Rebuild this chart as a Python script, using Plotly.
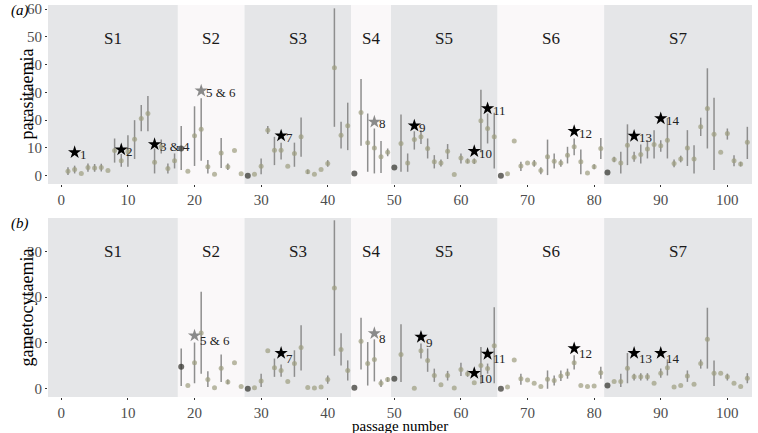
import plotly.graph_objects as go

passage = list(range(1, 104))

# parasitaemia (panel a): mean, lower, upper (None = no bar)
para_mean = [1.6, 2.2, 0.8, 2.9, 2.8, 2.9, 1.9, 9.1, 5.4, 8.6,
             13.1, 20.6, 22.4, 4.8, 10.4, 2.6, 5.4, 9.8, 1.6, 14.4,
             16.7, 3.2, 0.5, 8.2, 3.2, 9.1, 0.7, 0.0, 0.5, 3.4,
             16.4, 9.2, 9.2, 3.4, 8.0, 14.0, 1.4, 0.5, 2.2, 4.4,
             38.9, 14.6, 18.0, 0.8, 22.8, 11.9, 10.0, 6.8, 8.4, 2.9,
             11.6, 4.6, 13.0, 14.0, 9.8, 5.0, 4.6, 8.8, 0.4, 6.4,
             5.2, 5.2, 19.8, 17.0, 14.0, 0.0, 0.7, 12.5, 3.5, 4.6,
             4.4, 1.9, 6.8, 5.2, 4.6, 7.4, 10.4, 5.0, 1.0, 3.2,
             9.8, 1.1, 5.8, 4.6, 11.0, 6.6, 7.6, 9.6, 11.2, 10.8,
             12.8, 4.4, 6.0, 10.0, 6.0, 17.6, 24.2, 14.9, 8.4, 15.2,
             5.4, 4.2, 12.0]
para_lo = [0.2, 0.8, None, 1.4, 1.4, 1.5, None, 4.7, 3.2, 3.2,
           6.0, 16.0, 16.0, 0.8, 8.0, 0.8, 2.6, 2.0, None, 3.5,
           5.4, 0.8, None, 2.8, 2.0, None, None, None, None, 0.5,
           15.0, 3.8, 5.8, None, 3.2, 6.8, 0.6, None, None, 3.2,
           17.6, 9.8, 9.2, None, 10.8, 1.4, 0.8, 1.0, 7.0, None,
           1.4, 1.4, 9.4, 11.4, 6.2, 2.6, 3.3, 6.0, None, 4.4,
           4.4, 4.2, 8.4, 11.6, 2.6, None, None, None, 1.7, None,
           3.2, 0.5, 0.2, 2.6, 3.2, 4.4, 7.4, 0.5, None, 2.3,
           6.0, None, 4.8, 0.8, 3.8, 5.0, 4.4, 6.2, 6.2, 8.6,
           6.2, 3.0, 4.8, 3.5, 0.8, 14.3, 9.8, 2.0, None, 13.0,
           3.4, 3.3, 6.0]
para_hi = [3.0, 3.6, None, 4.4, 4.2, 4.3, None, 13.4, 7.8, 14.6,
           20.0, 25.5, 28.7, 9.8, 13.0, 4.4, 8.0, 17.9, None, 25.0,
           27.9, 5.6, None, 13.6, 4.4, None, None, None, None, 6.2,
           17.9, 14.0, 11.9, None, 11.9, 21.0, 2.2, None, None, 5.6,
           60.3, 19.4, 26.3, None, 34.8, 22.4, 17.0, 12.5, 9.8, None,
           22.0, 8.0, 16.0, 16.4, 13.4, 7.4, 5.8, 11.4, None, 8.0,
           6.2, 6.2, 31.0, 22.4, 22.7, None, None, None, 5.0, None,
           5.6, 3.0, 13.0, 8.0, 5.8, 10.4, 13.4, 9.4, None, 4.1,
           13.6, None, 6.8, 8.6, 18.5, 8.6, 11.2, 12.8, 16.4, 12.8,
           20.6, 5.8, 7.2, 16.4, 11.0, 20.9, 38.7, 28.1, None, 17.0,
           7.4, 5.0, 17.6]

# gametocytaemia (panel b)
gam_mean = [None] * 17 + [
    4.8, 0.7, 5.7, 12.2, 2.0, 0.2, 4.5, 1.5, 5.7, 0.5,
    0.0, 0.2, 1.7, 8.3, 4.6, 4.0, 1.6, 5.5, 9.0, 0.3,
    0.15, 0.4, 2.0, 22.0, 8.6, 4.0, 0.2, 10.4, 5.5, 6.4,
    1.2, 2.0, 2.2, 7.5, None, 0.1, 8.3, 6.2, 2.9, 0.9,
    2.9, 0.15, 4.2, 3.3, 1.3, 5.1, 4.4, 9.4, 0.0, 0.4,
    6.3, 2.2, 1.9, 1.2, 0.5, 2.1, 1.8, 2.8, 3.3, 5.7,
    0.7, 0.5, 0.6, 3.5, 0.7, 1.6, 1.6, 4.5, 2.6, 2.6,
    2.6, 1.2, 3.4, 4.6, 0.4, 0.7, 2.8, 1.0, 5.5, 10.8,
    3.4, 3.4, 2.6, 1.2, 0.5, 2.3]
gam_lo = [None] * 17 + [
    0.6, None, 1.2, 3.3, 0.4, None, 1.5, 1.0, None, None,
    None, None, 0.4, None, 2.6, 2.6, None, 2.6, 4.0, None,
    None, None, 1.1, 7.2, 5.1, 1.8, None, 4.2, 0.7, 1.6,
    0.4, 1.5, None, 1.5, None, None, 6.6, 3.7, 1.5, None,
    1.8, None, 2.8, 2.6, None, 1.1, 3.3, 1.2, None, None,
    None, 0.9, None, None, None, 0.0, 0.7, 1.7, 2.2, 4.2,
    None, None, None, 2.2, None, None, 0.4, 1.2, 1.8, 1.8,
    1.8, None, 2.4, 2.9, None, None, 1.5, None, 4.4, 4.4,
    0.6, None, 1.8, None, None, 1.2]
gam_hi = [None] * 17 + [
    8.8, None, 10.1, 21.2, 3.8, None, 7.5, 2.0, None, None,
    None, None, 3.3, None, 6.6, 5.3, None, 8.4, 13.9, None,
    None, None, 2.9, 36.8, 12.1, 6.2, None, 15.5, 10.2, 10.8,
    2.0, 2.5, None, 14.1, None, None, 9.9, 8.8, 4.4, None,
    3.9, None, 5.7, 4.0, None, 9.1, 5.5, 17.8, None, None,
    None, 3.3, None, None, None, 4.0, 2.9, 4.0, 4.4, 7.3,
    None, None, None, 4.8, None, None, 3.3, 7.8, 3.3, 3.4,
    3.4, None, 4.4, 6.4, None, None, 4.0, None, 6.4, 17.7,
    6.2, None, 3.3, None, None, 3.4]

dark_passages = [18, 28, 44, 50, 66, 82]

# stars: passage, value, label, grey?
star_a_x = [2, 9, 14, 21, 33, 47, 53, 62, 64, 77, 86, 90]
star_a_y = [8.4, 9.4, 11.3, 30.6, 14.4, 19.4, 18.0, 8.8, 24.2, 16.0, 14.3, 20.6]
star_a_lab = ["1", "2", "3 & 4", "5 & 6", "7", "8", "9", "10", "11", "12", "13", "14"]
star_a_grey = [False, False, False, True, False, True, False, False, False, False, False, False]

star_b_x = [20, 33, 47, 54, 62, 64, 77, 86, 90]
star_b_y = [11.6, 7.8, 12.1, 11.3, 3.4, 7.6, 8.8, 7.8, 7.8]
star_b_lab = ["5 & 6", "7", "8", "9", "10", "11", "12", "13", "14"]
star_b_grey = [True, False, True, False, False, False, False, False, False]

# sample periods
seg_names = ["S1", "S2", "S3", "S4", "S5", "S6", "S7"]
seg_bounds = [-2.0, 17.5, 27.5, 43.5, 49.5, 65.5, 81.5, 103.7]

x_ticks = list(range(0, 101, 10))

FONT = "Liberation Serif, Times New Roman, DejaVu Serif, serif"
PT_COL = "#9d9d7f"
DARK_COL = "#2f2f2a"
ERR_COL = "#8e8e8e"
BAND_DARK = "#e5e6e8"
BAND_LIGHT = "#faf8f9"

fig = go.Figure()


def add_panel(mean, lo, hi, xa, ya):
    xs, ys, ep, em, cols, sizes = [], [], [], [], [], []
    for p, m, l, h in zip(passage, mean, lo, hi):
        if m is None:
            continue
        xs.append(p)
        ys.append(m)
        ep.append((h - m) if h is not None else 0)
        em.append((m - l) if l is not None else 0)
        dark = p in dark_passages
        cols.append(DARK_COL if dark else PT_COL)
        sizes.append(6 if dark else 5)
    fig.add_trace(go.Scatter(
        x=xs, y=ys, mode="markers", xaxis=xa, yaxis=ya,
        marker=dict(color=cols, size=sizes, line=dict(width=0)),
        error_y=dict(type="data", symmetric=False, array=ep, arrayminus=em,
                     color=ERR_COL, thickness=1.5, width=0),
        showlegend=False, hoverinfo="x+y"))


add_panel(para_mean, para_lo, para_hi, "x", "y")
add_panel(gam_mean, gam_lo, gam_hi, "x2", "y2")


def add_stars(sx, sy, lab, grey, xa, ya, yshift):
    cols = ["#8a8a8a" if g else "#000000" for g in grey]
    fig.add_trace(go.Scatter(
        x=sx, y=sy, mode="markers", xaxis=xa, yaxis=ya,
        marker=dict(symbol="star", size=10, color=cols, line=dict(width=0)),
        showlegend=False, hoverinfo="text", text=lab))
    for x, y, t in zip(sx, sy, lab):
        fig.add_annotation(x=x, y=y, xref=xa, yref=ya, text=t, showarrow=False,
                           xanchor="left", yanchor="middle", xshift=3, yshift=yshift,
                           font=dict(family=FONT, size=13, color="#222222"))


add_stars(star_a_x, star_a_y, star_a_lab, star_a_grey, "x", "y", -2)
add_stars(star_b_x, star_b_y, star_b_lab, star_b_grey, "x2", "y2", -5)

# background bands and segment labels
for xa, yd in (("x", "y domain"), ("x2", "y2 domain")):
    for i, name in enumerate(seg_names):
        fig.add_shape(type="rect", xref=xa, yref=yd,
                      x0=seg_bounds[i], x1=seg_bounds[i + 1], y0=0, y1=1,
                      fillcolor=BAND_DARK if i % 2 == 0 else BAND_LIGHT,
                      line=dict(width=0), layer="below")
        fig.add_annotation(x=(seg_bounds[i] + seg_bounds[i + 1]) / 2, y=0.875,
                           xref=xa, yref=yd, text=name, showarrow=False,
                           font=dict(family=FONT, size=17, color="#1a1a1a"))

axis_common = dict(showgrid=False, zeroline=False, showline=False, automargin=False,
                   ticks="outside", ticklen=2, tickwidth=1, tickcolor="#333333",
                   tickfont=dict(family=FONT, size=15, color="#4d4d4d"))

fig.update_layout(
    width=758, height=433,
    margin=dict(l=48, r=6, t=5, b=36, autoexpand=False),
    paper_bgcolor="white", plot_bgcolor="white",
    xaxis=dict(domain=[0, 1], anchor="y", range=[seg_bounds[0], seg_bounds[-1]],
               tickvals=x_ticks, **axis_common),
    xaxis2=dict(domain=[0, 1], anchor="y2", range=[seg_bounds[0], seg_bounds[-1]],
                tickvals=x_ticks, **axis_common),
    yaxis=dict(domain=[0.5434, 1], anchor="x", range=[-3.0, 61.5],
               tickvals=[0, 10, 20, 30, 40, 50, 60], **axis_common),
    yaxis2=dict(domain=[0, 0.4566], anchor="x2", range=[-1.8, 37.3],
                tickvals=[0, 10, 20, 30], **axis_common),
)

# axis titles & panel tags
fig.add_annotation(text="parasitaemia", xref="paper", yref="y domain", x=0, y=0.5,
                   xshift=-33, textangle=-90, showarrow=False,
                   font=dict(family=FONT, size=18, color="black"))
fig.add_annotation(text="gametocytaemia", xref="paper", yref="y2 domain", x=0, y=0.5,
                   xshift=-33, textangle=-90, showarrow=False,
                   font=dict(family=FONT, size=18, color="black"))
fig.add_annotation(text="passage number", xref="paper", yref="paper", x=0.5, y=0,
                   yshift=-29, yanchor="middle", showarrow=False,
                   font=dict(family=FONT, size=15, color="black"))
fig.add_annotation(text="<i>(a)</i>", xref="paper", yref="y domain", x=0, y=1,
                   xshift=-39, yshift=-5, yanchor="middle", showarrow=False,
                   font=dict(family=FONT, size=15, color="black"))
fig.add_annotation(text="<i>(b)</i>", xref="paper", yref="y2 domain", x=0, y=1,
                   xshift=-39, yshift=-5, yanchor="middle", showarrow=False,
                   font=dict(family=FONT, size=15, color="black"))

fig.write_html("out.html", config={"displayModeBar": False},
               post_script="document.body.style.margin='0px';document.body.style.padding='0px';")
